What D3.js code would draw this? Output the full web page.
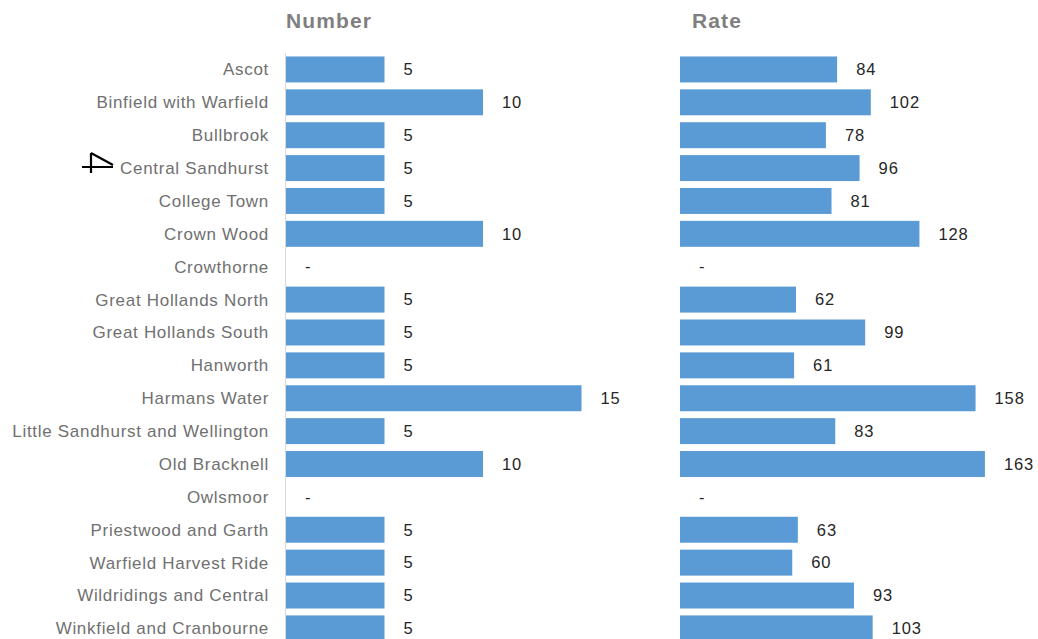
<!DOCTYPE html>
<html>
<head>
<meta charset="utf-8">
<script src="https://cdn.jsdelivr.net/npm/d3@7"></script>
<style>
  body { margin: 0; background: #fff; }
  svg { display: block; }
</style>
</head>
<body>
<div id="chart"></div>
<script>
const wards = ["Ascot", "Binfield with Warfield", "Bullbrook", "Central Sandhurst", "College Town",
    "Crown Wood", "Crowthorne", "Great Hollands North", "Great Hollands South", "Hanworth",
    "Harmans Water", "Little Sandhurst and Wellington", "Old Bracknell", "Owlsmoor",
    "Priestwood and Garth", "Warfield Harvest Ride", "Wildridings and Central", "Winkfield and Cranbourne"]
const numbers = [5, 10, 5, 5, 5, 10, null, 5, 5, 5, 15, 5, 10, null, 5, 5, 5, 5]
const rates = [84, 102, 78, 96, 81, 128, null, 62, 99, 61, 158, 83, 163, null, 63, 60, 93, 103]
const panelTitles = ["Number", "Rate"]

const W = 1038, H = 639
const barColor = "#5b9bd5"

const svg = d3.select("#chart").append("svg")
    .attr("width", W)
    .attr("height", H)

// rows continue below the bottom edge, like the cropped original
const y = d3.scaleBand()
    .domain(wards)
    .range([53, 53 + 32.88 * wards.length])
    .paddingInner(0.21)
    .paddingOuter(0.105)

const xNum = d3.scaleLinear().domain([0, 15]).range([286, 581.5])
const xRate = d3.scaleLinear().domain([0, 170]).range([680, 998])

// category labels
svg.append("g")
    .selectAll("text")
    .data(wards)
    .enter()
    .append("text")
    .attr("x", 269)
    .attr("y", d => y(d) + y.bandwidth() / 2)
    .attr("dy", "0.35em")
    .attr("text-anchor", "end")
    .attr("font-family", "Liberation Sans, Arial, sans-serif")
    .attr("font-size", 17)
    .attr("letter-spacing", 0.7)
    .attr("fill", "#707070")
    .text(d => d)

const drawPanel = (values, x, title, titleX) => {
    const g = svg.append("g")

    g.append("text")
        .attr("x", titleX)
        .attr("y", 28)
        .attr("font-family", "Liberation Sans, Arial, sans-serif")
        .attr("font-weight", "bold")
        .attr("font-size", 21)
        .attr("letter-spacing", 1.1)
        .attr("fill", "#7f7f7f")
        .text(title)

    const rows = wards.map((w, i) => ({ ward: w, v: values[i] }))

    g.selectAll("rect").data(rows.filter(d => d.v != null))
        .enter()
        .append("rect")
        .attr("x", x(0))
        .attr("y", d => y(d.ward))
        .attr("width", d => x(d.v) - x(0))
        .attr("height", y.bandwidth())
        .attr("fill", barColor)

    g.selectAll("text.val").data(rows)
        .enter()
        .append("text")
        .attr("class", "val")
        .attr("x", d => x(d.v == null ? 0 : d.v) + 19)
        .attr("y", d => y(d.ward) + y.bandwidth() / 2)
        .attr("dy", "0.35em")
        .attr("font-family", "Liberation Sans, Arial, sans-serif")
        .attr("font-size", 16.5)
        .attr("letter-spacing", 0.9)
        .attr("fill", "#262626")
        .text(d => d.v == null ? "-" : d.v)
    return g
}

const gNum = drawPanel(numbers, xNum, panelTitles[0], 286)
drawPanel(rates, xRate, panelTitles[1], 692)

// category axis line of the Number panel
gNum.append("line")
    .attr("x1", xNum(0) - 0.5).attr("x2", xNum(0) - 0.5)
    .attr("y1", 53).attr("y2", H)
    .attr("stroke", "#d9d9d9")
    .attr("stroke-width", 1)

// stray pen mark next to Central Sandhurst
svg.append("path")
    .attr("d", "M91,153 L91,173 M82,167 L113,167 M91,153 L113,165")
    .attr("fill", "none")
    .attr("stroke", "#000")
    .attr("stroke-width", 2.2)
</script>
</body>
</html>
